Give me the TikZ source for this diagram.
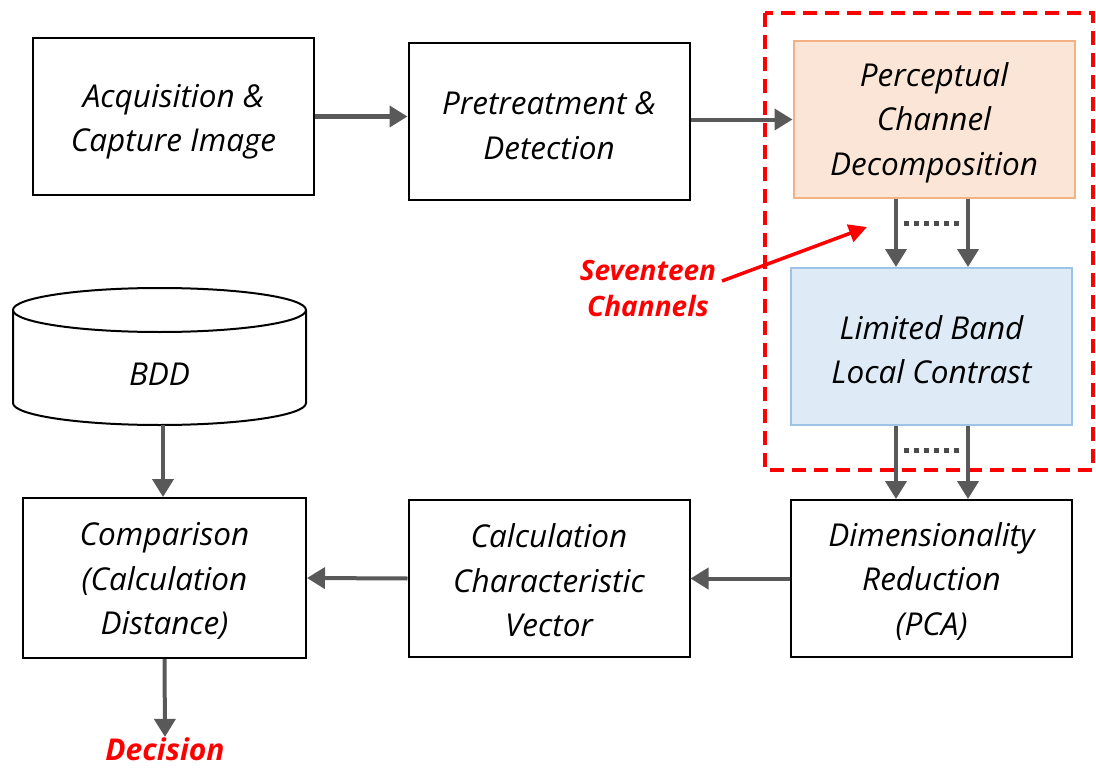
\documentclass[tikz,border=0pt]{standalone}
\usepackage{fontspec}
\setmainfont{Open Sans}
\usetikzlibrary{arrows.meta,shapes.geometric}
\definecolor{arr}{HTML}{595959}
\definecolor{orfill}{HTML}{FBE5D6}
\definecolor{ordraw}{HTML}{F4B183}
\definecolor{blfill}{HTML}{DEEBF7}
\definecolor{bldraw}{HTML}{9DC3E6}
\definecolor{redc}{HTML}{FF0000}
\tikzset{
  box/.style={draw=black, line width=2pt, minimum width=281pt, minimum height=157pt, inner sep=0pt},
  txt/.style={align=center, inner sep=0pt, font=\fontsize{31.5}{44.5}\selectfont\itshape},
  conn/.style={draw=arr, line width=4pt, -{Triangle[length=18pt,width=21pt]}},
  dots/.style={draw=arr!85!black, line width=5pt, dash pattern=on 5pt off 5pt},
  redlab/.style={text=redc, align=center, font=\fontsize{28}{36}\selectfont\bfseries\itshape},
}
\begin{document}
\begin{tikzpicture}[x=1pt,y=-1pt]
\useasboundingbox (0,0) rectangle (1096,768);
\fill[white] (0,0) rectangle (1096,768);
% red dashed frame
\draw[redc, line width=3.5pt, dash pattern=on 14pt off 8pt] (765,13) rectangle (1093,470);
% boxes
\node[box] (acq) at (173.5,116.5) {};
\node[txt] (acqt) at ([yshift=-5pt]acq.center) {Acquisition \&\\Capture Image};
\node[box] (pre) at (549,121.5) {};
\node[txt] (pret) at ([yshift=-4pt]pre.center) {Pretreatment \&\\Detection};
\node[box, fill=orfill, draw=ordraw] (perc) at (934,119.5) {};
\node[txt] (perct) at ([yshift=-3pt]perc.center) {Perceptual\\Channel\\Decomposition};
\node[box, fill=blfill, draw=bldraw] (lim) at (931.5,346.5) {};
\node[txt] (limt) at ([yshift=-3pt]lim.center) {Limited Band\\Local Contrast};
\node[box] (dim) at (931.5,578.5) {};
\node[txt] (dimt) at ([yshift=-3pt]dim.center) {Dimensionality\\Reduction\\(PCA)};
\node[box] (calc) at (549,578.5) {};
\node[txt] (calct) at ([yshift=-2pt]calc.center) {Calculation\\Characteristic\\Vector};
\node[box, minimum width=283pt, minimum height=160pt] (comp) at (164.5,578) {};
\node[txt] (compt) at ([yshift=-3pt]comp.center) {Comparison\\(Calculation\\Distance)};
% cylinder BDD
\draw[black, line width=2pt] (13,310) -- (13,403) arc[start angle=180, end angle=360, x radius=146.5pt, y radius=22pt] -- (306,310);
\draw[black, line width=2pt, fill=white] (159.5,310) ellipse[x radius=146.5pt, y radius=22pt];
\node[txt] (bdd) at (159.5,374) {BDD};
\coordinate (bddbot) at (163,425);
% labels
\node[redlab] (sev) at (648,288) {Seventeen\\Channels};
\coordinate (sevarr) at (722,281);
\coordinate (sevtip) at (867,227);
\node[redlab, font=\fontsize{30}{36}\selectfont\bfseries\itshape] (dec) at (165,749) {Decision};
% connectors
\draw[conn] (acq.east) -- (pre.west |- acq.east);
\draw[conn] (pre.east |- perc.west) -- (perc.west);
\draw[conn] ([xshift=-38pt]perc.south) -- ([xshift=-38pt]perc.south |- lim.north);
\draw[conn] ([xshift=34pt]perc.south) -- ([xshift=34pt]perc.south |- lim.north);
\draw[conn] ([xshift=-35.5pt]lim.south) -- ([xshift=-35.5pt]lim.south |- dim.north);
\draw[conn] ([xshift=36.5pt]lim.south) -- ([xshift=36.5pt]lim.south |- dim.north);
\draw[dots] (904,223) -- (962,223);
\draw[dots] (904,450) -- (962,450);
\draw[conn] (dim.west) -- (calc.east);
\draw[conn] (calc.west) -- (comp.east);
\draw[conn] (bddbot) -- (bddbot |- comp.north);
\draw[conn] (comp.south) -- ([yshift=-3pt]dec.north);
\draw[redc, line width=3.5pt, -{Triangle[length=18pt,width=18pt]}] (sevarr) -- (sevtip);
\end{tikzpicture}
\end{document}
